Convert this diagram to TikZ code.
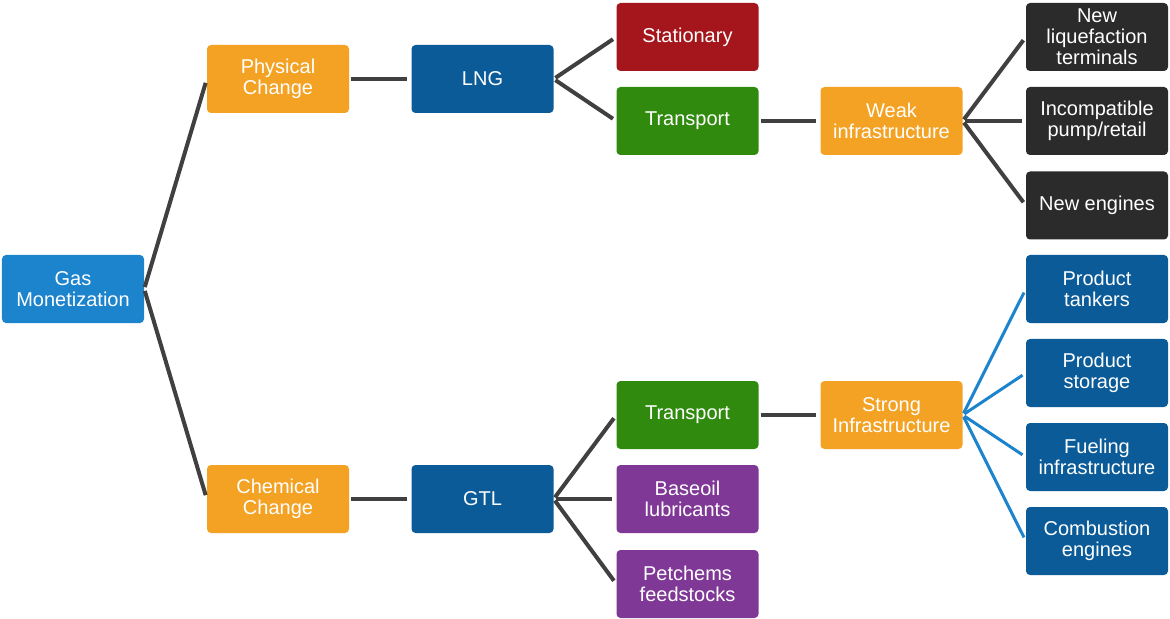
\documentclass[tikz,border=0pt]{standalone}
\usepackage{fontspec}
\setmainfont{Liberation Sans}
\definecolor{cgm}{HTML}{1C83CD}
\definecolor{corange}{HTML}{F4A223}
\definecolor{cdblue}{HTML}{0B5B98}
\definecolor{cred}{HTML}{A4161B}
\definecolor{cgreen}{HTML}{2F8A0E}
\definecolor{cpurple}{HTML}{7F3896}
\definecolor{cdark}{HTML}{2B2B2B}
\definecolor{cline}{HTML}{404040}
\begin{document}
\begin{tikzpicture}[x=1bp,y=-1bp,
  box/.style={rectangle,rounded corners=4bp,minimum width=142bp,minimum height=68bp,inner sep=0pt,
    text=white,align=center,font=\fontsize{20bp}{21bp}\selectfont},
  conn/.style={draw=cline,line width=4bp,shorten <=2bp,shorten >=4bp},
  bconn/.style={draw=cgm,line width=3bp,shorten <=2bp,shorten >=4bp}]
\useasboundingbox (0,0) rectangle (1170,619);
\node[box,fill=cgm] (gm) at (73,289) {Gas\\Monetization};
\node[box,fill=corange] (pc) at (278,79) {Physical\\Change};
\node[box,fill=corange] (cc) at (278,499) {Chemical\\Change};
\node[box,fill=cdblue] (lng) at (482.5,79) {LNG};
\node[box,fill=cdblue] (gtl) at (482.5,499) {GTL};
\node[box,fill=cred] (st) at (687.5,37) {Stationary};
\node[box,fill=cgreen] (tr1) at (687.5,121) {Transport};
\node[box,fill=cgreen] (tr2) at (687.5,415) {Transport};
\node[box,fill=cpurple] (bl) at (687.5,499) {Baseoil\\lubricants};
\node[box,fill=cpurple] (pf) at (687.5,584) {Petchems\\feedstocks};
\node[box,fill=corange] (wi) at (891.5,121) {Weak\\infrastructure};
\node[box,fill=corange] (si) at (891.5,415) {Strong\\Infrastructure};
\node[box,fill=cdark] (d1) at (1097,37) {New\\liquefaction\\terminals};
\node[box,fill=cdark] (d2) at (1097,121) {Incompatible\\pump/retail};
\node[box,fill=cdark] (d3) at (1097,205.5) {New engines};
\node[box,fill=cdblue] (b1) at (1097,289) {Product\\tankers};
\node[box,fill=cdblue] (b2) at (1097,373) {Product\\storage};
\node[box,fill=cdblue] (b3) at (1097,457) {Fueling\\infrastructure};
\node[box,fill=cdblue] (b4) at (1097,541) {Combustion\\engines};
\draw[conn] (gm.east) -- (pc.west);
\draw[conn] (gm.east) -- (cc.west);
\draw[conn] (pc.east) -- (lng.west);
\draw[conn] (cc.east) -- (gtl.west);
\draw[conn] (lng.east) -- (st.west);
\draw[conn] (lng.east) -- (tr1.west);
\draw[conn] (gtl.east) -- (tr2.west);
\draw[conn] (gtl.east) -- (bl.west);
\draw[conn] (gtl.east) -- (pf.west);
\draw[conn] (tr1.east) -- (wi.west);
\draw[conn] (tr2.east) -- (si.west);
\draw[conn] (wi.east) -- (d1.west);
\draw[conn] (wi.east) -- (d2.west);
\draw[conn] (wi.east) -- (d3.west);
\draw[bconn] (si.east) -- (b1.west);
\draw[bconn] (si.east) -- (b2.west);
\draw[bconn] (si.east) -- (b3.west);
\draw[bconn] (si.east) -- (b4.west);
\end{tikzpicture}
\end{document}
